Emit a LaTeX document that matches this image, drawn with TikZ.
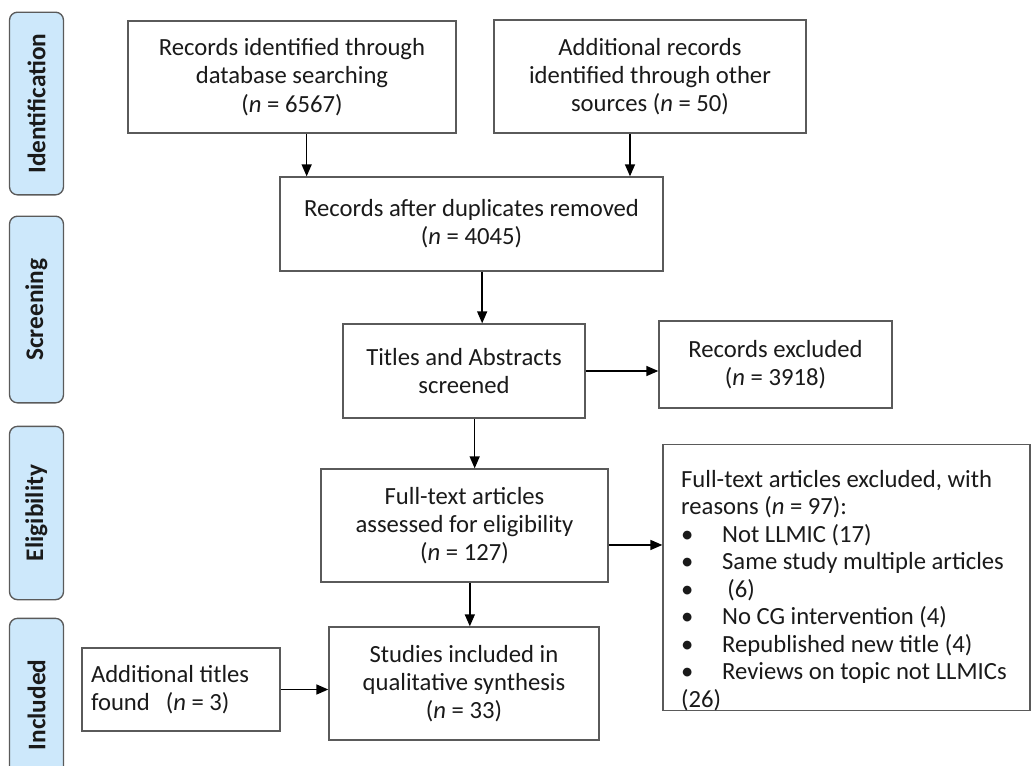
\documentclass[tikz,border=0pt]{standalone}
\usepackage{fontspec}
\setmainfont{Carlito}
\usetikzlibrary{arrows.meta}
\definecolor{prink}{HTML}{1A1A1A}
\definecolor{prline}{HTML}{5A5A5A}
\definecolor{prphase}{HTML}{CDE8FB}
\newcommand{\prbullet}{\makebox[30.75pt][l]{\textbullet}}
\newcommand{\prspacing}{\spaceskip=0pt\xspaceskip=0pt\relax}
\tikzset{
  pr box/.style={draw=prline, line width=1pt, fill=white, align=center, inner sep=0pt,
    text=prink, font=\fontsize{18.5}{21.2}\selectfont},
  pr phase/.style={draw=prline, line width=1pt, rounded corners=6pt, fill=prphase,
    rotate=90, minimum height=40.5pt, inner sep=0pt, text=prink,
    font=\bfseries\fontsize{19}{21}\selectfont},
  pr arrow/.style={-{Triangle[length=9pt,width=7.5pt]}, line width=1.1pt, draw=black},
  pr left/.style={pr box, align=left, execute at begin node=\prspacing},
  pr list/.style={pr left, text width=248pt, inner xsep=13.6pt,
    font=\fontsize{18.5}{20.6}\selectfont}
}

\begin{document}
\begin{tikzpicture}[x=0.75pt, y=-0.75pt]
  \useasboundingbox (0,0) rectangle (1033,765);
  % phases
  \node[pr phase, minimum width=137pt] (identification) at (36.5,103.5) {Identification};
  \node[pr phase, minimum width=140pt] (screening) at (36.5,309.5) {Screening};
  \node[pr phase, minimum width=130pt] (eligibility) at (36.5,513) {Eligibility};
  \node[pr phase, minimum width=130pt] (included) at (36.5,705) {Included};
  % boxes
  \node[pr box, minimum width=246pt, minimum height=84pt] (database) at (292,77)
    {Records identified through\\database searching\\(\textit{n} = 6567)};
  \node[pr box, minimum width=234pt, minimum height=84.75pt] (other) at (650,76.5)
    {Additional records\\identified through other\\sources (\textit{n} = 50)};
  \node[pr box, minimum width=287.25pt, minimum height=70.5pt] (dupes) at (471.5,224)
    {Records after duplicates removed\\(\textit{n} = 4045)};
  \node[pr box, minimum width=181.5pt, minimum height=70.5pt] (screened) at (464,371)
    {Titles and Abstracts\\screened};
  \node[pr box, minimum width=174.75pt, minimum height=65.25pt] (excluded) at (775.5,364.5)
    {Records excluded\\(\textit{n} = 3918)};
  \node[pr box, minimum width=215.25pt, minimum height=84.75pt] (fulltext) at (464.5,525.5)
    {Full-text articles\\assessed for eligibility\\(\textit{n} = 127)};
  \node[pr list, anchor=north] (reasons) at (846.5,444)
    {\rule{0pt}{32pt}Full-text articles excluded, with\\
     reasons (\textit{n} = 97):\\
     \prbullet Not LLMIC (17)\\
     \prbullet Same study multiple articles\\
     \prbullet\hspace*{4pt}(6)\\
     \prbullet No CG intervention (4)\\
     \prbullet Republished new title (4)\\
     \prbullet Reviews on topic not LLMICs\\
     (26)};
  \node[pr left, text width=135pt, inner xsep=6.75pt, minimum height=62.25pt] (extra) at (181,689.5)
    {Additional titles\\found\hspace{12pt}(\textit{n} = 3)};
  \node[pr box, minimum width=202.5pt, minimum height=84.75pt] (studies) at (464,683.5)
    {Studies included in\\qualitative synthesis\\(\textit{n} = 33)};
  % arrows
  \draw[pr arrow] ([xshift=11pt]database.south) -- ([xshift=11pt]database.south |- dupes.north);
  \draw[pr arrow] ([xshift=-15pt]other.south) -- ([xshift=-15pt]other.south |- dupes.north);
  \draw[pr arrow] ([xshift=8pt]dupes.south) -- ([xshift=8pt]dupes.south |- screened.north);
  \draw[pr arrow] (screened.east) -- (screened.east -| excluded.west);
  \draw[pr arrow] ([xshift=8pt]screened.south) -- ([xshift=8pt]screened.south |- fulltext.north);
  \draw[pr arrow] ([yshift=-14.6pt]fulltext.east) -- ([yshift=-14.6pt]fulltext.east -| reasons.west);
  \draw[pr arrow] ([xshift=4pt]fulltext.south) -- ([xshift=4pt]fulltext.south |- studies.north);
  \draw[pr arrow] (extra.east) -- (extra.east -| studies.west);
\end{tikzpicture}
\end{document}
